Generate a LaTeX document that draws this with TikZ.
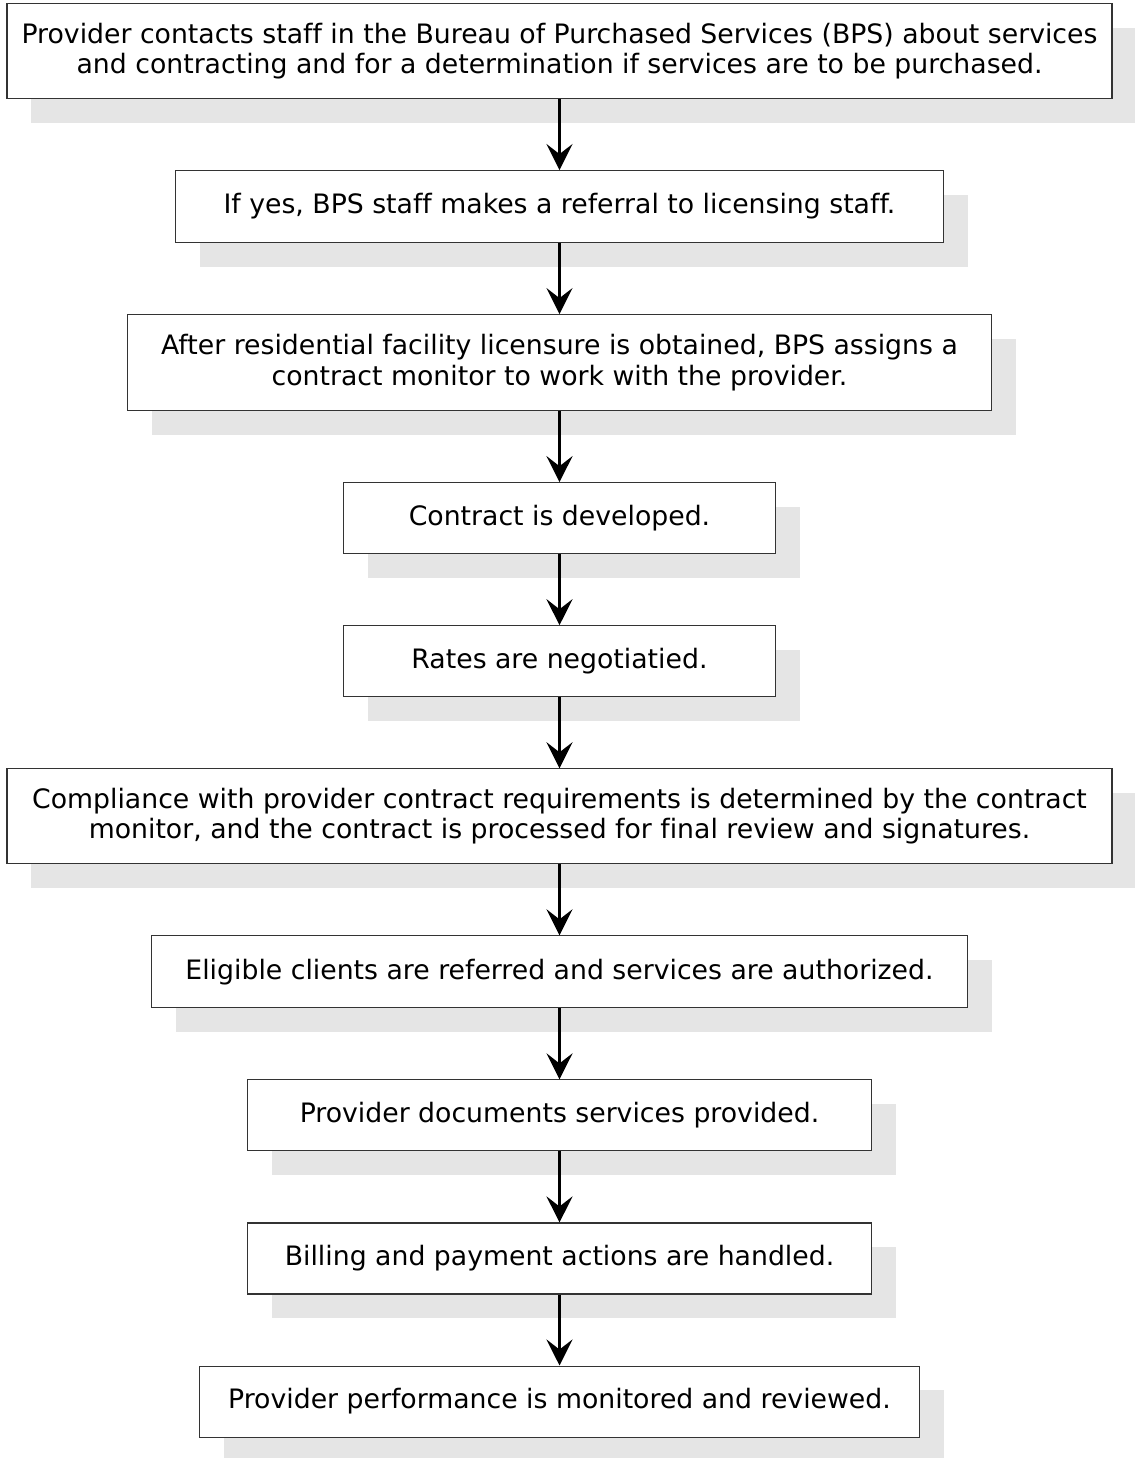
\documentclass[tikz,border=0pt]{standalone}
\usepackage{fontspec}
\setmainfont[Ligatures=NoCommon]{DejaVu Sans}
\usetikzlibrary{positioning,shadows,arrows.meta}

\begin{document}
\begin{tikzpicture}[node distance=1.42cm,
    stepbox/.style={draw=black!80, line width=0.6pt, fill=white, align=center,
        inner sep=0pt, minimum height=1.42cm, font=\fontsize{15.2}{17.2}\selectfont,
        drop shadow={shadow xshift=0.48cm, shadow yshift=-0.48cm, fill=black!10, opacity=1}},
    flow/.style={-{Stealth[length=0.52cm,width=0.52cm,inset=0.2cm]}, line width=1.7pt}]
\useasboundingbox (0,0) rectangle (22.7,-29.16);
\node[stepbox, below, minimum width=22.1cm, minimum height=1.9cm] (contact) at (11.19,-0.06)
    {Provider contacts staff in the Bureau of Purchased Services (BPS) about services\\
     and contracting and for a determination if services are to be purchased.};
\node[stepbox, below=of contact, minimum width=15.36cm, minimum height=1.44cm] (referral)
    {If yes, BPS staff makes a referral to licensing staff.};
\node[stepbox, below=of referral, minimum width=17.28cm, minimum height=1.92cm] (monitor)
    {After residential facility licensure is obtained, BPS assigns a\\
     contract monitor to work with the provider.};
\node[stepbox, below=of monitor, minimum width=8.64cm] (develop) {Contract is developed.};
\node[stepbox, below=of develop, minimum width=8.64cm] (rates) {Rates are negotiatied.};
\node[stepbox, below=of rates, minimum width=22.1cm, minimum height=1.9cm] (comply)
    {Compliance with provider contract requirements is determined by the contract\\
     monitor, and the contract is processed for final review and signatures.};
\node[stepbox, below=of comply, minimum width=16.32cm, minimum height=1.44cm] (clients)
    {Eligible clients are referred and services are authorized.};
\node[stepbox, below=of clients, minimum width=12.48cm] (document)
    {Provider documents services provided.};
\node[stepbox, below=of document, minimum width=12.48cm] (billing)
    {Billing and payment actions are handled.};
\node[stepbox, below=of billing, minimum width=14.4cm] (review)
    {Provider performance is monitored and reviewed.};
% connectors
\foreach \a/\b in {contact/referral, referral/monitor, monitor/develop, develop/rates,
    rates/comply, comply/clients, clients/document, document/billing, billing/review}
    \draw[flow] (\a) -- (\b);
\end{tikzpicture}
\end{document}
